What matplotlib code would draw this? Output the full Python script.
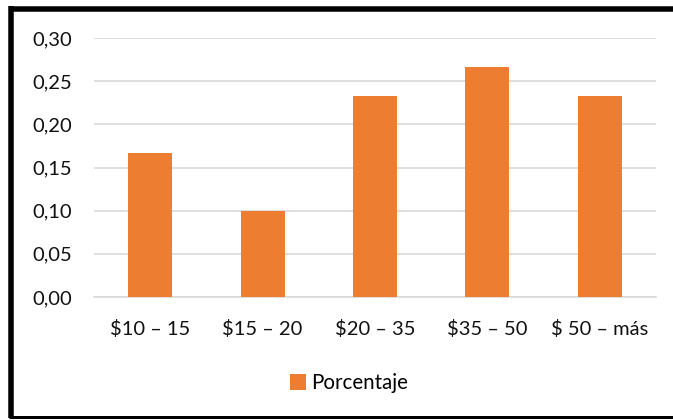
import matplotlib
matplotlib.use("Agg")
import matplotlib.pyplot as plt
from matplotlib.lines import Line2D
from matplotlib.ticker import FuncFormatter

categories = ["$10 – 15", "$15 – 20", "$20 – 35", "$35 – 50", "$ 50 – más"]
porcentaje = [5 / 30, 3 / 30, 7 / 30, 8 / 30, 7 / 30]
y_ticks = [0.0, 0.05, 0.10, 0.15, 0.20, 0.25, 0.30]

W, H = 673, 420
plt.rcParams["font.family"] = ["Lato", "DejaVu Sans"]
fig = plt.figure(figsize=(W / 100, H / 100), dpi=100)
ax = fig.add_axes([94 / W, 1 - 297 / H, (656 - 94) / W, (297 - 38) / H])

orange = "#ED7D31"
x = range(len(categories))
ax.bar(x, porcentaje, width=0.39, color=orange, zorder=3, label="Porcentaje")

ax.set_xlim(-0.5, len(categories) - 0.5)
ax.set_ylim(0, 0.30)
ax.set_yticks(y_ticks)
ax.yaxis.set_major_formatter(FuncFormatter(lambda v, p: f"{v:.2f}".replace(".", ",")))
ax.set_xticks(list(x))
ax.set_xticklabels(categories)
ax.tick_params(axis="both", length=0, labelsize=14.5, colors="#111111")
ax.tick_params(axis="y", pad=16)
ax.tick_params(axis="x", pad=16.5)
ax.grid(axis="y", color="#d9d9d9", linewidth=1.2, zorder=0)
for side in ["top", "right", "left"]:
    ax.spines[side].set_visible(False)
ax.spines["bottom"].set_color("#d9d9d9")
ax.spines["bottom"].set_linewidth(1.2)

leg = fig.legend(loc="center", bbox_to_anchor=(349 / W, 1 - 383 / H), frameon=False,
                 fontsize=14.8, handlelength=0.8, handleheight=0.8, handletextpad=0.25)

# outer frame
def px_line(x0, y0, x1, y1, lw_px, color="black"):
    fig.add_artist(Line2D([x0 / W, x1 / W], [1 - y0 / H, 1 - y1 / H],
                          transform=fig.transFigure, color=color,
                          linewidth=lw_px * 72 / 100, solid_capstyle="butt"))

px_line(11.5, 5.5, 11.5, 418, 5.5)
px_line(8.5, 8.5, 680, 8.5, 5.5)
px_line(8.5, 416.5, 680, 416.5, 3)

fig.savefig("out.png", dpi=100)
